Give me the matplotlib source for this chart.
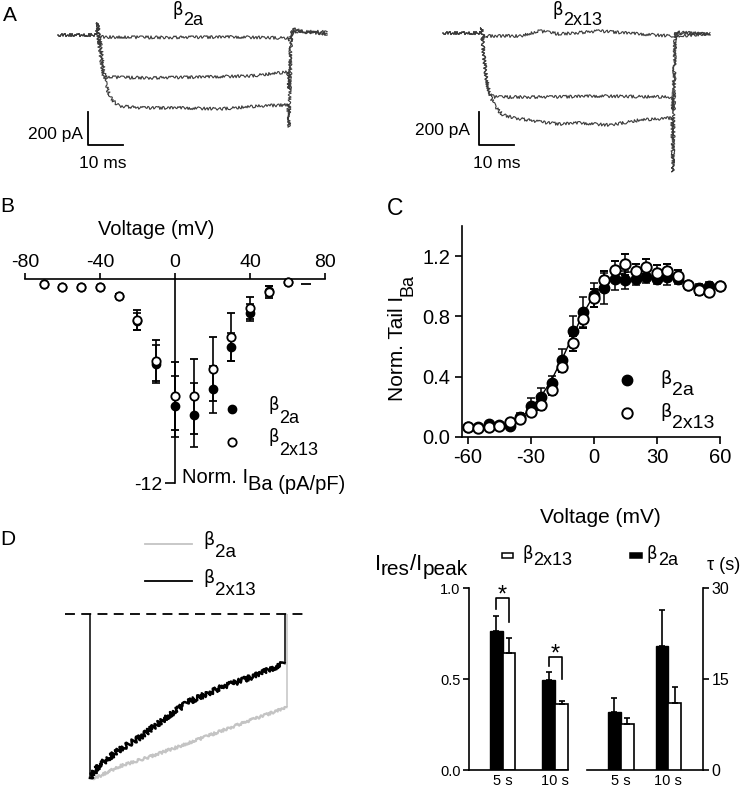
import matplotlib
matplotlib.use("Agg")
import matplotlib.pyplot as plt
from matplotlib.patches import Rectangle

plt.rcParams['font.family'] = ['Liberation Sans', 'DejaVu Sans']
plt.rcParams['axes.unicode_minus'] = False

W, H = 741, 788

# ---------------- A: example traces (t in ms, I in pA) ----------------
b2a_t_top = [0, 11.1, 11.4, 11.7, 12.0, 30, 50, 65.7, 66.3, 67.1, 70, 76.9]
b2a_i_top = [0, 0, 73, -60, -12, -15, -12, -18, -30, 24, 18, 8]
b2a_t_mid = [0, 11.1, 11.4, 11.7, 12.3, 12.9, 13.7, 26.3, 40.6, 54.9, 65.7, 66.0, 66.6, 69.1, 76.9]
b2a_i_mid = [0, 0, 73, -60, -150, -242, -255, -260, -255, -248, -224, -333, 18, 24, 18]
b2a_t_low = [0, 11.1, 11.4, 11.7, 12.0, 12.9, 13.7, 14.9, 16.3, 17.7, 23.4, 34.9, 46.3, 57.7,
             65.7, 66.0, 66.6, 67.1, 69.1, 76.9]
b2a_i_low = [0, 0, 73, -60, -30, -182, -303, -376, -412, -430, -442, -442, -448, -430,
             -424, -558, -30, 42, 24, 6]

b2x13_t_top = [0, 10.9, 11.1, 11.7, 12.3, 22.0, 27.7, 33.4, 44.9, 56.3, 65.4, 66.0, 66.6, 76.3]
b2x13_i_top = [0, 0, 30, -42, -18, -18, 12, -6, 12, -6, -18, -30, 0, -6]
b2x13_t_mid = [0, 10.9, 11.1, 11.7, 12.6, 13.4, 14.9, 30.6, 44.9, 65.4, 65.7, 66.3, 76.3]
b2x13_i_mid = [0, 0, 30, -164, -315, -376, -388, -388, -382, -388, -467, -18, -6]
b2x13_t_low = [0, 10.9, 11.1, 11.4, 12.3, 13.4, 14.9, 17.1, 20.6, 27.7, 33.4, 39.1, 47.7, 56.3,
               65.4, 65.7, 66.3, 66.9, 76.3]
b2x13_i_low = [0, 0, 30, -73, -255, -376, -448, -497, -515, -539, -552, -545, -558, -527,
               -515, -842, -42, 6, -6]

bar_ms = 10
bar_pA = 200

# ---------------- B: I-V ----------------
vB = [-70, -60, -50, -40, -30, -20, -10, 0, 10, 20, 30, 40, 50, 60]
iB_b2a = [-0.31, -0.47, -0.45, -0.47, -0.98, -2.5, -5.0, -7.5, -8.0, -6.5, -4.0, -2.0, -0.7, -0.2]
eB_b2a = [0.05, 0.05, 0.05, 0.05, 0.1, 0.5, 1.1, 1.8, 1.9, 1.4, 0.85, 0.5, 0.3, 0.05]
iB_b2x13 = [-0.31, -0.47, -0.45, -0.47, -0.98, -2.4, -4.8, -6.9, -6.9, -5.3, -3.4, -1.7, -0.78, -0.2]
eB_b2x13 = [0.05, 0.05, 0.05, 0.05, 0.1, 0.6, 1.2, 2.0, 2.2, 1.9, 1.4, 0.65, 0.35, 0.05]
vB_extra = [70]
iB_extra = [-0.3]

# ---------------- C: tail currents ----------------
vC = [-60, -55, -50, -45, -40, -35, -30, -25, -20, -15, -10, -5, 0, 5, 10, 15, 20, 25, 30, 35,
      40, 45, 50, 55, 60]
c_b2a = [0.066, 0.062, 0.082, 0.08, 0.073, 0.13, 0.206, 0.266, 0.354, 0.51, 0.70, 0.83, 0.94,
         0.985, 1.045, 1.04, 1.047, 1.06, 1.047, 1.06, 1.045, 1.01, 0.985, 1.0, 1.0]
ce_b2a = [0.01, 0.01, 0.01, 0.01, 0.01, 0.03, 0.05, 0.06, 0.05, 0.07, 0.1, 0.1, 0.08, 0.1, 0.07,
          0.06, 0.04, 0.04, 0.03, 0.05, 0.03, 0.02, 0.03, 0.03, 0.01]
c_b2x13 = [0.066, 0.055, 0.062, 0.073, 0.10, 0.12, 0.166, 0.21, 0.31, 0.46, 0.62, 0.78, 0.92,
           1.04, 1.107, 1.145, 1.10, 1.13, 1.09, 1.10, 1.07, 1.007, 0.974, 0.963, 1.0]
ce_b2x13 = [0.01, 0.01, 0.01, 0.01, 0.01, 0.02, 0.03, 0.03, 0.03, 0.03, 0.05, 0.06, 0.06, 0.06,
            0.06, 0.07, 0.05, 0.05, 0.05, 0.05, 0.04, 0.02, 0.03, 0.03, 0.01]
fit_v = [-45, -40, -35, -30, -25, -20, -15, -10, -5, 0, 5, 10, 15, 20, 25]
fit_y = [0.06, 0.08, 0.12, 0.19, 0.27, 0.38, 0.52, 0.67, 0.82, 0.94, 1.02, 1.07, 1.09, 1.10, 1.10]

# ---------------- D: inactivation ----------------
t_blk = [0, 0.5, 1.5, 2.6, 3.6, 5.0, 6.7, 8.4, 10.0]
i_blk = [-1.0, -0.92, -0.83, -0.75, -0.66, -0.54, -0.45, -0.38, -0.30]
t_gry = [0.1, 0.3, 1.5, 3.1, 5.0, 7.5, 10.1]
i_gry = [-1.0, -1.0, -0.93, -0.87, -0.79, -0.68, -0.57]

bar_labels = ['5 s', '10 s', '5 s', '10 s']
ratio_b2a = [0.767, 0.495]
ratio_b2a_err = [0.083, 0.046]
ratio_b2x13 = [0.642, 0.361]
ratio_b2x13_err = [0.086, 0.019]
tau_b2a = [9.63, 20.5]
tau_b2a_err = [2.2, 5.9]
tau_b2x13 = [7.54, 11.0]
tau_b2x13_err = [1.1, 2.76]
sig_top = [0.945, 0.624]
sig_left = [0.885, 0.572]
sig_right = [0.817, 0.50]


fig = plt.figure(figsize=(W / 100, H / 100), dpi=100)


def px_axes(left, top, right, bottom):
    return fig.add_axes([left / W, 1 - bottom / H, (right - left) / W, (bottom - top) / H])


def noisy(ax, t, i, scale, **kw):
    # jitter is only a drawing style (sketch), the data stay as listed
    line, = ax.plot(t, i, **kw)
    line.set_sketch_params(scale, 2, 4)
    return line


trace_kw = dict(color='#3a3a3a', lw=0.8)

# A left
axA1 = px_axes(50, 5, 340, 180)
axA1.set_xlim(-2.29, 80.57)
axA1.set_ylim(-879, 182)
axA1.axis('off')
noisy(axA1, b2a_t_top, b2a_i_top, 1.5, **trace_kw)
noisy(axA1, b2a_t_mid, b2a_i_mid, 1.5, **trace_kw)
noisy(axA1, b2a_t_low, b2a_i_low, 1.5, **trace_kw)
x0, y0 = 8.57, -667
axA1.plot([x0, x0, x0 + bar_ms], [y0 + bar_pA, y0, y0], color='k', lw=1.3)

# A right
axA2 = px_axes(415, 5, 725, 180)
axA2.set_xlim(-8, 80.57)
axA2.set_ylim(-891, 170)
axA2.axis('off')
noisy(axA2, b2x13_t_top, b2x13_i_top, 1.5, **trace_kw)
noisy(axA2, b2x13_t_mid, b2x13_i_mid, 1.5, **trace_kw)
noisy(axA2, b2x13_t_low, b2x13_i_low, 1.5, **trace_kw)
x0, y0 = 10.3, -679
axA2.plot([x0, x0, x0 + bar_ms], [y0 + bar_pA, y0, y0], color='k', lw=1.3)

# B
axB = px_axes(15, 265, 335, 490)
axB.set_xlim(-85.33, 85.33)
axB.set_ylim(-12.41, 0.82)
axB.patch.set_visible(False)
for s in ['right', 'bottom']:
    axB.spines[s].set_visible(False)
axB.spines['top'].set_position(('data', 0))
axB.spines['left'].set_position(('data', 0))
axB.spines['top'].set_bounds(-80, 80)
axB.spines['left'].set_bounds(-12, 0)
for s in ['top', 'left']:
    axB.spines[s].set_linewidth(1.2)
axB.xaxis.tick_top()
axB.set_xticks([-80, -40, 0, 40, 80])
axB.set_yticks([-12])
axB.tick_params(axis='x', direction='out', length=4, width=1.2, labelsize=14, pad=2)
axB.tick_params(axis='y', direction='out', length=7, width=1.2, labelsize=14, pad=2)
axB.set_xlabel('Voltage (mV)', fontsize=14.5)
axB.xaxis.set_label_position('top')
axB.xaxis.set_label_coords(0.44, 1.133)
axB.errorbar(vB, iB_b2a, yerr=eB_b2a, fmt='o', ms=6, mfc='k', mec='k', color='k',
             elinewidth=1.2, capsize=3, capthick=1.2, clip_on=False, zorder=3)
axB.errorbar(vB, iB_b2x13, yerr=eB_b2x13, fmt='o', ms=6, mfc='white', mec='k', mew=1.3,
             color='k', elinewidth=1.2, capsize=3, capthick=1.2, clip_on=False, zorder=4)
axB.plot(vB_extra, iB_extra, ls='none', marker='_', ms=7, mew=1.3, color='k')

# C
axC = px_axes(461.7, 226, 720, 436.7)
axC.set_xlim(-62.85, 60)
axC.set_ylim(0, 1.4)
axC.patch.set_visible(False)
for s in ['right', 'top']:
    axC.spines[s].set_visible(False)
for s in ['left', 'bottom']:
    axC.spines[s].set_linewidth(1.2)
axC.set_xticks([-60, -30, 0, 30, 60])
axC.set_yticks([0, 0.4, 0.8, 1.2], ['0.0', '0.4', '0.8', '1.2'])
axC.tick_params(direction='out', length=5, width=1.2, labelsize=14.5, pad=3)
axC.set_xlabel('Voltage (mV)', fontsize=15)
axC.xaxis.set_label_coords(0.535, -0.34)
axC.plot(fit_v, fit_y, color='k', lw=1.0, zorder=2)
axC.errorbar(vC, c_b2a, yerr=ce_b2a, fmt='o', ms=7.5, mfc='k', mec='k', color='k',
             elinewidth=1.1, capsize=3, capthick=1.1, clip_on=False, zorder=3)
axC.errorbar(vC, c_b2x13, yerr=ce_b2x13, fmt='o', ms=7.5, mfc='white', mec='k', mew=1.4,
             color='k', elinewidth=1.1, capsize=3, capthick=1.1, clip_on=False, zorder=4)

# D left: traces
axDL = px_axes(65, 605, 308, 785)
axDL.set_xlim(-1.28, 11.2)
axDL.set_ylim(-1.043, 0.055)
axDL.axis('off')
axDL.axhline(0, color='k', lw=1.3, dashes=(5.5, 3.5))
noisy(axDL, t_gry, i_gry, 1.3, color='#c4c4c4', lw=1.6)
axDL.vlines(t_gry[-1], i_gry[-1], 0, color='#c4c4c4', lw=1.1)
noisy(axDL, t_blk, i_blk, 2.6, color='k', lw=1.8)
axDL.vlines([t_blk[0], t_blk[-1]], [i_blk[0], i_blk[-1]], 0, color='k', lw=1.1)

# D right: bars
axD = px_axes(469, 588.3, 703.3, 770)
axD.set_xlim(0, 18.3)
axD.set_ylim(0, 1)
axT = axD.twinx()
axT.set_ylim(0, 30)
pos = [2.63, 6.73, 11.85, 15.57]
pl = [p - 0.5 for p in pos]
pr = [p + 0.5 for p in pos]
axD.bar(pl[:2], ratio_b2a, width=1, color='k', edgecolor='k', lw=1)
axD.bar(pr[:2], ratio_b2x13, width=1, color='white', edgecolor='k', lw=1.2)
axD.errorbar(pl[:2], ratio_b2a, yerr=[[0, 0], ratio_b2a_err], fmt='none', ecolor='k',
             elinewidth=1.2, capsize=2.5, capthick=1.2)
axD.errorbar(pr[:2], ratio_b2x13, yerr=[[0, 0], ratio_b2x13_err], fmt='none', ecolor='k',
             elinewidth=1.2, capsize=2.5, capthick=1.2)
axT.bar(pl[2:], tau_b2a, width=1, color='k', edgecolor='k', lw=1)
axT.bar(pr[2:], tau_b2x13, width=1, color='white', edgecolor='k', lw=1.2)
axT.errorbar(pl[2:], tau_b2a, yerr=[[0, 0], tau_b2a_err], fmt='none', ecolor='k',
             elinewidth=1.2, capsize=2.5, capthick=1.2)
axT.errorbar(pr[2:], tau_b2x13, yerr=[[0, 0], tau_b2x13_err], fmt='none', ecolor='k',
             elinewidth=1.2, capsize=2.5, capthick=1.2)
for k in range(2):
    axD.plot([pl[k], pl[k], pr[k], pr[k]], [sig_left[k], sig_top[k], sig_top[k], sig_right[k]],
             color='k', lw=1.2)
    axD.text(pos[k], sig_top[k] - 0.02, '*', ha='center', va='baseline', fontsize=17)
for s in ['top', 'right', 'bottom']:
    axD.spines[s].set_visible(False)
for s in ['top', 'left', 'bottom']:
    axT.spines[s].set_visible(False)
axD.spines['left'].set_linewidth(1.2)
axT.spines['right'].set_linewidth(1.2)
axD.plot([0, 0.4225], [0, 0], transform=axD.transAxes, color='k', lw=1.2, clip_on=False)
axD.plot([0.504, 1], [0, 0], transform=axD.transAxes, color='k', lw=1.2, clip_on=False)
axD.set_xticks(pos, bar_labels)
axD.tick_params(axis='x', length=0, labelsize=10.5, pad=3)
axD.set_yticks([0, 0.5, 1.0], ['0.0', '0.5', '1.0'])
axD.tick_params(axis='y', direction='out', length=4, width=1.2, labelsize=10.5, pad=2)
axT.set_yticks([0, 15, 30])
axT.tick_params(axis='y', direction='out', length=4, width=1.2, labelsize=11.5, pad=2)

# ---------------- overlay for labels (pixel coordinates) ----------------
ov = fig.add_axes([0, 0, 1, 1], zorder=10)
ov.set_xlim(0, W)
ov.set_ylim(H, 0)
ov.axis('off')
ov.patch.set_visible(False)


def beta(x, y, sub, size, bsize, rise):
    t = ov.text(x, y - rise / 0.72, 'β', fontsize=bsize, family='DejaVu Sans',
                va='baseline', ha='left')
    ov.annotate(sub, xy=(1, 0), xycoords=t, xytext=(0.3, -rise), textcoords='offset points',
                fontsize=size, va='bottom', ha='left')


def chain(x, y, parts):
    s, size, _ = parts[0]
    t = ov.text(x, y, s, fontsize=size, va='baseline', ha='left')
    for s, size, shift in parts[1:]:
        t = ov.annotate(s, xy=(1, 0), xycoords=t, xytext=(0, shift), textcoords='offset points',
                        fontsize=size, va='bottom', ha='left')


# panel letters
ov.text(3, 21, 'A', fontsize=15)
ov.text(0, 212, 'B', fontsize=15)
ov.text(387, 215, 'C', fontsize=16.5)
ov.text(0, 545, 'D', fontsize=15)

# A titles and scale bars
beta(172, 25, '2a', 13, 12, 7.5)
beta(552, 25, '2x13', 13, 12, 7.5)
ov.text(83, 139, '200 pA', fontsize=12.5, ha='right', va='baseline')
ov.text(79, 168, '10 ms', fontsize=12.5, ha='left', va='baseline')
ov.text(470, 135, '200 pA', fontsize=12.5, ha='right', va='baseline')
ov.text(473, 168, '10 ms', fontsize=12.5, ha='left', va='baseline')

# B legend and y label
ov.plot([231.7], [409], 'o', ms=6, mfc='k', mec='k')
ov.plot([231.7], [441.7], 'o', ms=6, mfc='white', mec='k', mew=1.3)
beta(268, 423, '2a', 13, 12, 9.5)
beta(268, 455, '2x13', 13, 12, 9.5)
chain(182, 482.7, [('Norm. I', 14.5, 0), ('Ba (pA/pF)', 14.5, -5.3)])

# C legend and y label
ov.plot([626.7], [380], 'o', ms=7.5, mfc='k', mec='k')
ov.plot([626.7], [413], 'o', ms=7.5, mfc='white', mec='k', mew=1.4)
beta(660, 395, '2a', 14, 13, 8)
beta(660, 428, '2x13', 14, 13, 8)
tC = ov.text(407.4, 401, 'Norm. Tail I', fontsize=15, rotation=90, ha='right', va='bottom')
ov.annotate('Ba', xy=(1, 1), xycoords=tC, xytext=(6.5, 0), textcoords='offset points',
            fontsize=13, rotation=90, ha='right', va='bottom')

# D left legend
ov.plot([145, 192], [544, 544], color='#c4c4c4', lw=1.3)
ov.plot([145, 192], [581, 581], color='k', lw=1.3)
beta(203, 557, '2a', 13.5, 12.5, 8.5)
beta(203, 595, '2x13', 13.5, 12.5, 8.5)

# D right legend and axis titles
ov.add_patch(Rectangle((502, 553), 11, 5, facecolor='white', edgecolor='k', lw=1.1))
ov.add_patch(Rectangle((630, 553), 11.5, 5, facecolor='k', edgecolor='k', lw=1.1))
beta(522, 565, '2x13', 13, 12, 4.5)
beta(647, 565, '2a', 13, 12, 4.5)
chain(375, 570, [('I', 16, 0), ('res', 15, -3), ('/I', 16, 3), ('peak', 15, -3)])
ov.text(707, 570, 'τ (s)', fontsize=13, va='baseline', ha='left')

fig.savefig('out.png', dpi=100)
